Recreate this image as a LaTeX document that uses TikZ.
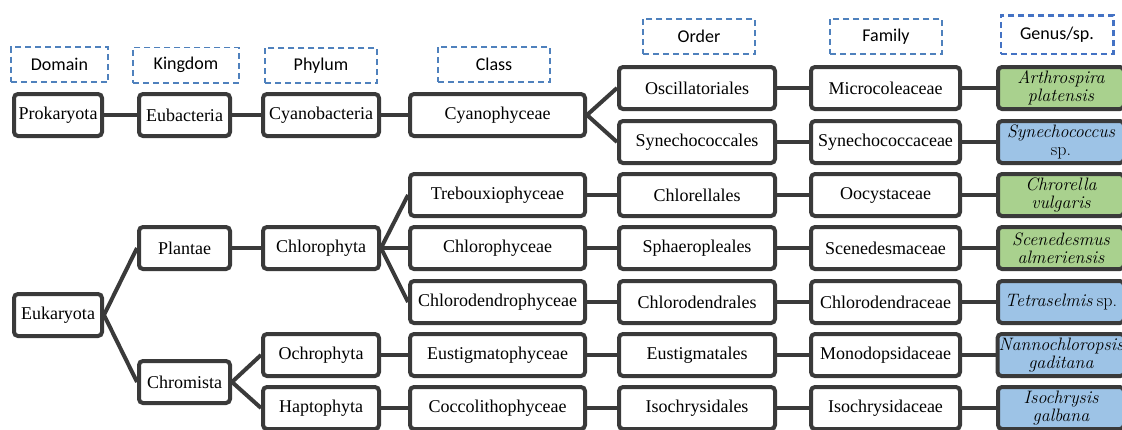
\documentclass[tikz,border=0pt]{standalone}
\usepackage{fontspec}
\setmainfont{Liberation Serif}
\newfontfamily\hdrfont{Carlito}
\newfontfamily\lmfont{Latin Modern Roman}
\newcommand\spname[1]{{\lmfont\itshape\fontsize{18}{18.5}\selectfont #1}}
\newcommand\spabbr{{\lmfont\fontsize{18}{18.5}\selectfont sp.}}
\definecolor{boxline}{HTML}{3A3A3A}
\definecolor{hdrblue}{HTML}{4F81BD}
\definecolor{genblue}{HTML}{4472C4}
\definecolor{sppgreen}{HTML}{A9D18E}
\definecolor{sppblue}{HTML}{9DC3E6}
\begin{document}
\begin{tikzpicture}[x=1pt,y=-1pt,
  taxon/.style={draw=boxline, line width=4pt, rounded corners=4pt, fill=white,
    minimum height=42pt, inner sep=1pt, align=center,
    font=\fontsize{18}{18.5}\selectfont},
  c0/.style={taxon, minimum width=88pt},
  c1/.style={taxon, minimum width=91pt},
  c2/.style={taxon, minimum width=116pt},
  c3/.style={taxon, minimum width=175pt},
  c4/.style={taxon, minimum width=156pt},
  c5/.style={taxon, minimum width=149pt},
  c6/.style={taxon, minimum width=126pt},
  green/.style={c6, fill=sppgreen},
  blue/.style={c6, fill=sppblue},
  hdr/.style={draw=hdrblue, line width=1.6pt, dash pattern=on 6pt off 4pt,
    minimum height=35.4pt, minimum width=112pt, inner sep=1pt,
    font=\hdrfont\fontsize{18}{20}\selectfont},
  link/.style={draw=boxline, line width=4pt}]
\useasboundingbox (0,0) rectangle (1122,429);

% headers
\node[hdr, minimum width=97.4pt] (hdom) at (59.5,64.5) {Domain};
\node[hdr, minimum width=106pt] (hking) at (186,65) {Kingdom};
\node[hdr] (hphy) at (321,65.5) {Phylum};
\node[hdr] (hcls) at (494,64.5) {Class};
\node[hdr] (hord) at (699,36.5) {Order};
\node[hdr] (hfam) at (886,36.5) {Family};
\node[hdr, draw=genblue, line width=2.5pt, minimum width=112.5pt, minimum height=38.5pt] (hgen) at (1057,34.5) {Genus/sp.};

% prokaryote branch
\node[c0] (prok) at (58,115) {Prokaryota};
\node[c1] (eubac) at (184.5,115) {Eubacteria};
\node[c2] (cyanob) at (321,115) {Cyanobacteria};
\node[c3] (cyanoph) at (497.5,115) {Cyanophyceae};
\node[c4] (oscil) at (697,88) {Oscillatoriales};
\node[c4] (synord) at (697,142) {Synechococcales};
\node[c5] (microc) at (885.5,88) {Microcoleaceae};
\node[c5] (synfam) at (885.5,142) {Synechococcaceae};
\node[green] (arth) at (1061,88) {\spname{Arthrospira}\\\spname{platensis}};
\node[blue] (synsp) at (1061,142) {\spname{Synechococcus}\\\spabbr};

% eukaryote branch
\node[c0] (euk) at (58,315) {Eukaryota};
\node[c1] (plant) at (184.5,248) {Plantae};
\node[c1] (chrom) at (184.5,382) {Chromista};
\node[c2] (chloro) at (321,248) {Chlorophyta};
\node[c2] (ochro) at (321,355) {Ochrophyta};
\node[c2] (hapto) at (321,408) {Haptophyta};

\node[c3] (treb) at (497.5,195) {Trebouxiophyceae};
\node[c3] (chlcls) at (497.5,248) {Chlorophyceae};
\node[c3] (chdcls) at (497.5,302) {Chlorodendrophyceae};
\node[c3] (eucls) at (497.5,355) {Eustigmatophyceae};
\node[c3] (cocls) at (497.5,408) {Coccolithophyceae};

\node[c4] (chlord) at (697,195) {Chlorellales};
\node[c4] (sphord) at (697,248) {Sphaeropleales};
\node[c4] (chdord) at (697,302) {Chlorodendrales};
\node[c4] (euord) at (697,355) {Eustigmatales};
\node[c4] (isoord) at (697,408) {Isochrysidales};

\node[c5] (oocfam) at (885.5,195) {Oocystaceae};
\node[c5] (scnfam) at (885.5,248) {Scenedesmaceae};
\node[c5] (chdfam) at (885.5,302) {Chlorodendraceae};
\node[c5] (monfam) at (885.5,355) {Monodopsidaceae};
\node[c5] (isofam) at (885.5,408) {Isochrysidaceae};

\node[green] (chlv) at (1061,195) {\spname{Chrorella}\\\spname{vulgaris}};
\node[green] (scen) at (1061,248) {\spname{Scenedesmus}\\\spname{almeriensis}};
\node[blue] (tetr) at (1061,302) {\spname{Tetraselmis} \spabbr};
\node[blue] (nann) at (1061,355) {\spname{Nannochloropsis}\\\spname{gaditana}};
\node[blue] (isoch) at (1061,408) {\spname{Isochrysis}\\\spname{galbana}};

% connectors
\draw[link] (prok.east) -- (eubac.west);
\draw[link] (eubac.east) -- (cyanob.west);
\draw[link] (cyanob.east) -- (cyanoph.west);
\draw[link] (cyanoph.east) -- (oscil.west);
\draw[link] (cyanoph.east) -- (synord.west);
\draw[link] (oscil.east) -- (microc.west);
\draw[link] (synord.east) -- (synfam.west);
\draw[link] (microc.east) -- (arth.west);
\draw[link] (synfam.east) -- (synsp.west);

\draw[link] (euk.east) -- (plant.west);
\draw[link] (euk.east) -- (chrom.west);
\draw[link] (plant.east) -- (chloro.west);
\draw[link] (chrom.east) -- (ochro.west);
\draw[link] (chrom.east) -- (hapto.west);
\draw[link] (chloro.east) -- (treb.west);
\draw[link] (chloro.east) -- (chlcls.west);
\draw[link] (chloro.east) -- (chdcls.west);
\draw[link] (ochro.east) -- (eucls.west);
\draw[link] (hapto.east) -- (cocls.west);

\draw[link] (treb.east) -- (chlord.west);
\draw[link] (chlcls.east) -- (sphord.west);
\draw[link] (chdcls.east) -- (chdord.west);
\draw[link] (eucls.east) -- (euord.west);
\draw[link] (cocls.east) -- (isoord.west);

\draw[link] (chlord.east) -- (oocfam.west);
\draw[link] (sphord.east) -- (scnfam.west);
\draw[link] (chdord.east) -- (chdfam.west);
\draw[link] (euord.east) -- (monfam.west);
\draw[link] (isoord.east) -- (isofam.west);

\draw[link] (oocfam.east) -- (chlv.west);
\draw[link] (scnfam.east) -- (scen.west);
\draw[link] (chdfam.east) -- (tetr.west);
\draw[link] (monfam.east) -- (nann.west);
\draw[link] (isofam.east) -- (isoch.west);
\end{tikzpicture}
\end{document}
